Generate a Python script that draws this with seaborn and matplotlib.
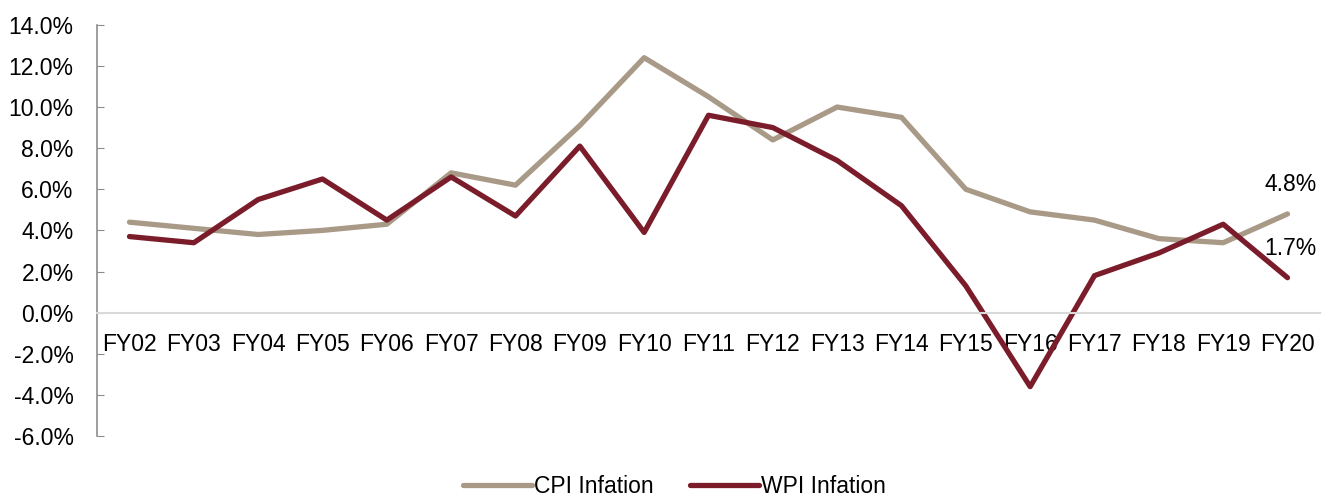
import matplotlib
matplotlib.use("Agg")
import matplotlib.pyplot as plt
import pandas as pd
import seaborn as sns

# Data
years = ["FY02", "FY03", "FY04", "FY05", "FY06", "FY07", "FY08", "FY09", "FY10", "FY11",
         "FY12", "FY13", "FY14", "FY15", "FY16", "FY17", "FY18", "FY19", "FY20"]
cpi = [4.4, 4.1, 3.8, 4.0, 4.3, 6.8, 6.2, 9.1, 12.4, 10.5,
       8.4, 10.0, 9.5, 6.0, 4.9, 4.5, 3.6, 3.4, 4.8]
wpi = [3.7, 3.4, 5.5, 6.5, 4.5, 6.6, 4.7, 8.1, 3.9, 9.6,
       9.0, 7.4, 5.2, 1.3, -3.6, 1.8, 2.9, 4.3, 1.7]

df = pd.DataFrame({"year": years * 2,
                   "value": cpi + wpi,
                   "series": ["CPI Infation"] * len(years) + ["WPI Infation"] * len(years)})

sns.set_style("white")
plt.rcParams["font.family"] = ["Liberation Sans", "DejaVu Sans"]
plt.rcParams["text.color"] = "black"
plt.rcParams["xtick.color"] = "black"
plt.rcParams["ytick.color"] = "black"

fig = plt.figure(figsize=(13.33, 4.96), dpi=100)
ax = fig.add_axes([0.073, 0.121, 0.917, 0.829])

palette = {"CPI Infation": "#A89A87", "WPI Infation": "#7B1C2B"}
sns.lineplot(data=df, x="year", y="value", hue="series", palette=palette,
             linewidth=3.8, sort=False, ax=ax, legend=True)

ax.set_ylim(-6, 14)
ax.set_yticks(range(-6, 15, 2))
ax.set_yticklabels([f"{v:.1f}%" for v in range(-6, 15, 2)])
ax.set_xlim(-0.5, len(years) - 0.5)
ax.set_xlabel("")
ax.set_ylabel("")

for s in ["top", "right"]:
    ax.spines[s].set_visible(False)
ax.spines["left"].set_color("#8c8c8c")
ax.spines["left"].set_linewidth(1.2)
ax.spines["bottom"].set_position(("data", 0))
ax.spines["bottom"].set_color("#d9d9d9")
ax.spines["bottom"].set_linewidth(1.5)

ax.tick_params(axis="y", direction="in", length=5, color="#8c8c8c", labelcolor="black",
               labelsize=16.5, pad=17, left=True)
ax.tick_params(axis="x", length=0, labelsize=16.5, labelcolor="black", pad=15)

# End labels
ax.annotate(f"{cpi[-1]:.1f}%", (len(years) - 1, cpi[-1]), xytext=(2, 13),
            textcoords="offset points", ha="center", va="bottom", fontsize=16.5)
ax.annotate(f"{wpi[-1]:.1f}%", (len(years) - 1, wpi[-1]), xytext=(2, 13),
            textcoords="offset points", ha="center", va="bottom", fontsize=16.5)

handles, labels = ax.get_legend_handles_labels()
ax.get_legend().remove()
fig.legend(handles, labels, loc="lower center", bbox_to_anchor=(0.506, -0.045), ncol=2,
           frameon=False, fontsize=16.5, handlelength=3.0, handletextpad=0.1, columnspacing=1.6)

fig.savefig("out.png", dpi=100)
